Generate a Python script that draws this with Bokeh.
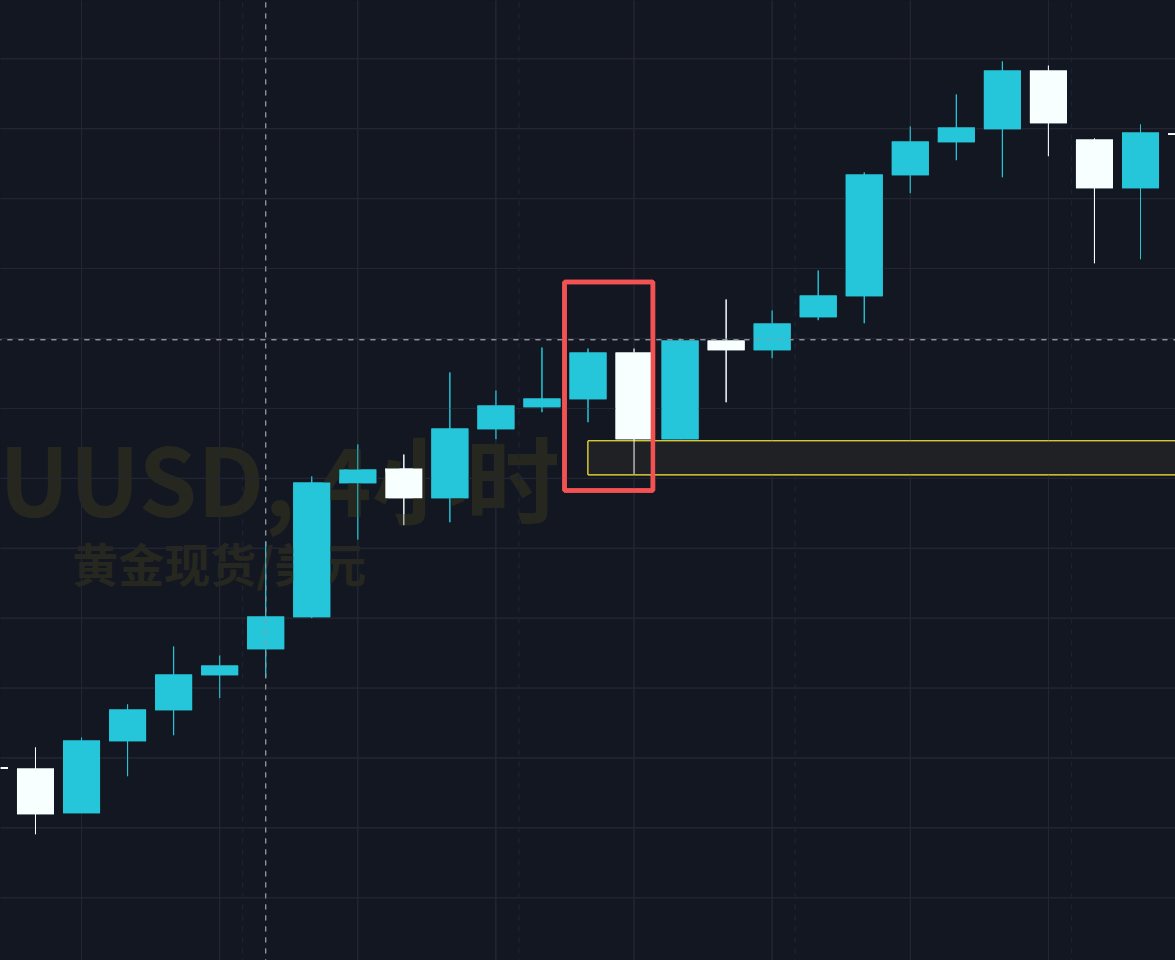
from bokeh.plotting import figure
from bokeh.models import ColumnDataSource, Range1d
from bokeh.core.properties import value
from bokeh.embed import file_html
from bokeh.resources import INLINE

# ---- data (XAUUSD 4h candles) ----
bars = list(range(0, 27))
opens = [2309.36, 2309.25, 2306.05, 2311.20, 2313.42, 2315.92, 2317.78, 2320.07, 2329.65,
         2330.70, 2328.58, 2333.51, 2335.09, 2335.66, 2339.00, 2332.80, 2339.86, 2339.16,
         2341.52, 2343.02, 2351.68, 2354.04, 2354.97, 2359.16, 2354.23, 2350.75, 2354.68]
highs = [2310.50, 2310.75, 2311.47, 2313.83, 2317.97, 2317.33, 2325.48, 2330.13, 2332.42,
         2331.70, 2337.57, 2336.28, 2339.35, 2339.28, 2339.28, 2340.00, 2342.79, 2342.00,
         2344.86, 2351.87, 2355.16, 2357.45, 2359.81, 2359.52, 2354.30, 2355.30, 2355.00]
lows = [2308.00, 2304.55, 2306.05, 2308.70, 2311.63, 2314.28, 2315.76, 2320.00, 2325.62,
        2326.65, 2326.86, 2332.80, 2334.73, 2334.01, 2330.29, 2332.80, 2335.44, 2338.59,
        2341.31, 2341.09, 2350.39, 2352.75, 2351.53, 2353.03, 2345.38, 2345.67, 2354.20]
closes = [2309.22, 2305.98, 2311.25, 2313.47, 2315.97, 2316.62, 2320.12, 2329.70, 2330.63,
          2328.58, 2333.56, 2335.21, 2335.71, 2339.00, 2332.80, 2339.86, 2339.16, 2341.07,
          2343.07, 2351.73, 2354.09, 2355.09, 2359.16, 2355.39, 2350.75, 2354.73, 2354.55]

price_ticks = [2300, 2305, 2310, 2315, 2320, 2325, 2330, 2335, 2340, 2345, 2350, 2355, 2360]
time_ticks = [2, 5, 8, 11, 14, 17, 20, 23]
day_breaks = [5.5, 11.5, 17.5, 23.5]
crosshair_bar = 6
crosshair_price = 2339.91
box_red = dict(left=12.49, right=14.41, top=2344.04, bottom=2329.13)
zone = dict(left=13, right=27.5, top=2332.68, bottom=2330.25)
title_text = "UUSD, 4小时"
subtitle_text = "黄金现货/美元"
title_pos = (0.21, 2325.31)
subtitle_pos = (1.80, 2321.69)

X0, X1 = 0.24, 25.76
Y0, Y1 = 2295.519, 2364.169

UP = "#26c6da"
DOWN = "#f8ffff"
BG = "#131722"
GRID = "#242733"
WATERMARK = "#26271f"

up_col = [UP if c >= o else DOWN for o, c in zip(opens, closes)]
src = ColumnDataSource(dict(
    x=bars, top=[max(o, c) for o, c in zip(opens, closes)],
    bottom=[min(o, c) for o, c in zip(opens, closes)],
    high=highs, low=lows, color=up_col))

p = figure(width=1175, height=960, x_range=Range1d(X0, X1),
           y_range=Range1d(Y0, Y1), output_backend="svg",
           toolbar_location=None, min_border=0, x_axis_location=None,
           y_axis_location=None, background_fill_color=BG, border_fill_color=BG,
           outline_line_color=None)
p.grid.visible = False


def draw_marks():
    p.segment(x0=time_ticks, x1=time_ticks, y0=[Y0 - 5] * len(time_ticks),
              y1=[Y1 + 5] * len(time_ticks), line_color=GRID, line_width=1)
    p.segment(x0=[X0 - 2] * len(price_ticks), x1=[X1 + 2] * len(price_ticks),
              y0=price_ticks, y1=price_ticks, line_color=GRID, line_width=1)
    p.segment(x0=day_breaks, x1=day_breaks, y0=[Y0 - 5] * len(day_breaks),
              y1=[Y1 + 5] * len(day_breaks), line_color="#1d2236", line_width=1,
              line_dash="5 6")
    p.quad(left=[zone["left"]], right=[zone["right"]], top=[zone["top"]],
           bottom=[zone["bottom"]], fill_color="#202125", line_color="#ffeb3b",
           line_width=1)
    p.segment(x0="x", y0="low", x1="x", y1="high", color="color", line_width=1, source=src)
    p.vbar(x="x", width=0.804, top="top", bottom="bottom", fill_color="color",
           line_color=None, source=src)
    p.quad(left=[box_red["left"]], right=[box_red["right"]], top=[box_red["top"]],
           bottom=[box_red["bottom"]], fill_alpha=0, line_color="#f25252", line_width=4.5)
    p.segment(x0=[crosshair_bar], x1=[crosshair_bar], y0=[Y0 - 5], y1=[Y1 + 5],
              line_color="#9598a1", line_width=1, line_dash="5 6")
    p.segment(x0=[X0 - 2], x1=[X1 + 2], y0=[crosshair_price], y1=[crosshair_price],
              line_color="#9598a1", line_width=1, line_dash="5 6")


draw_marks()

# watermark
p.text(x=[title_pos[0]], y=[title_pos[1]], text=[title_text],
       text_font=value("Noto Sans CJK SC"), text_font_size=value("94px"),
       text_font_style="bold", text_color=WATERMARK)
p.text(x=[subtitle_pos[0]], y=[subtitle_pos[1]], text=[subtitle_text],
       text_font=value("Noto Sans CJK SC"), text_font_size=value("46px"),
       text_font_style="bold", text_color=WATERMARK)

# marks again so they sit above the watermark
draw_marks()

html = file_html(p, INLINE, title="XAUUSD 4小时")
html = html.replace("</head>", "<style>html,body{margin:0;padding:0;background:#131722;overflow:hidden;}</style></head>", 1)
open("out.html", "w").write(html)
